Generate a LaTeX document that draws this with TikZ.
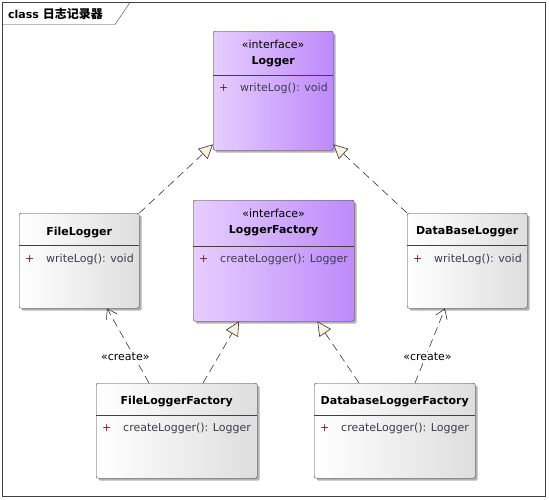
\documentclass[tikz,border=0pt]{standalone}
\usepackage{fontspec}
\setmainfont{DejaVu Sans}
\newfontfamily\cjkfont{Noto Sans CJK SC}
\usepackage{xcolor}
\usepackage{tikz}
\usetikzlibrary{positioning, arrows.meta, shadows}

\definecolor{ifaceleft}{RGB}{230,206,255}
\definecolor{ifaceright}{RGB}{190,138,250}
\definecolor{classright}{RGB}{222,222,222}
\definecolor{tipcream}{RGB}{252,240,224}
\definecolor{edgegray}{RGB}{64,64,64}
\definecolor{opgray}{RGB}{60,60,80}
\definecolor{plusred}{RGB}{110,30,60}

\begin{document}
\begin{tikzpicture}[
    x=1pt, y=-1pt,
    every node/.style={font=\fontsize{11}{16}\selectfont},
    classbox/.style={rectangle, draw=edgegray, rounded corners=2pt, anchor=north west, inner sep=0pt,
        left color=white, right color=classright,
        drop shadow={shadow xshift=2.5pt, shadow yshift=-2.5pt, fill=black, opacity=0.3}},
    ifacebox/.style={classbox, left color=ifaceleft, right color=ifaceright},
    classname/.style={font=\fontsize{11}{16}\selectfont\bfseries, align=center, inner sep=0pt},
    opline/.style={text=opgray, inner sep=0pt},
    sepline/.style={draw=edgegray},
    realize/.style={draw=black!80, line width=0.6pt, dash pattern=on 8pt off 5pt, -{Triangle[length=14pt, width=14pt, fill=tipcream]}},
    depend/.style={draw=black!80, line width=0.6pt, dash pattern=on 8pt off 5pt, -{Straight Barb[length=9pt, width=12pt]}},
    stereo/.style={fill=white, inner sep=1pt},
]
\useasboundingbox (0,0) rectangle (549,499);

% frame
\draw[edgegray] (2.5,2.5) rectangle (545.5,496.5);
\draw[edgegray] (2.5,24.5) -- (115,24.5) -- (130,2.5);
\node[anchor=west, inner sep=0pt, font=\fontsize{11}{14}\selectfont\bfseries] (frametitle) at (8,14) {class {\cjkfont\fontsize{12}{14}\selectfont 日志记录器}};

% interfaces
\node[ifacebox, minimum width=120pt, minimum height=119pt] (logger) at (213,31) {};
\node[classname](logger_name)[below=9pt of logger.north]{{\mdseries «interface»}\\Logger};
\draw[sepline] ([yshift=-44pt]logger.north west) -- ([yshift=-44pt]logger.north east);
\node[opline](logger_op)[below right=51.5pt and 6pt of logger.north west]{\makebox[21pt][l]{\textcolor{plusred}{+}}writeLog(): void};

\node[ifacebox, minimum width=161pt, minimum height=121pt] (loggerfactory) at (193,200) {};
\node[classname](loggerfactory_name)[below=9pt of loggerfactory.north]{{\mdseries «interface»}\\LoggerFactory};
\draw[sepline] ([yshift=-46pt]loggerfactory.north west) -- ([yshift=-46pt]loggerfactory.north east);
\node[opline](loggerfactory_op)[below right=53.5pt and 6pt of loggerfactory.north west]{\makebox[21pt][l]{\textcolor{plusred}{+}}createLogger(): Logger};

% loggers
\node[classbox, minimum width=120pt, minimum height=95pt] (filelogger) at (19,213) {};
\node[classname](filelogger_name)[below=13.5pt of filelogger.north]{FileLogger};
\draw[sepline] ([yshift=-32pt]filelogger.north west) -- ([yshift=-32pt]filelogger.north east);
\node[opline](filelogger_op)[below right=40.5pt and 6pt of filelogger.north west]{\makebox[21pt][l]{\textcolor{plusred}{+}}writeLog(): void};

\node[classbox, minimum width=120pt, minimum height=95pt] (dblogger) at (407,213) {};
\node[classname](dblogger_name)[below=13.5pt of dblogger.north]{DataBaseLogger};
\draw[sepline] ([yshift=-32pt]dblogger.north west) -- ([yshift=-32pt]dblogger.north east);
\node[opline](dblogger_op)[below right=40.5pt and 6pt of dblogger.north west]{\makebox[21pt][l]{\textcolor{plusred}{+}}writeLog(): void};

% factories
\node[classbox, minimum width=161pt, minimum height=95pt] (fileloggerfactory) at (96,383) {};
\node[classname](fileloggerfactory_name)[below=12.5pt of fileloggerfactory.north]{FileLoggerFactory};
\draw[sepline] ([yshift=-32pt]fileloggerfactory.north west) -- ([yshift=-32pt]fileloggerfactory.north east);
\node[opline](fileloggerfactory_op)[below right=39.5pt and 6pt of fileloggerfactory.north west]{\makebox[21pt][l]{\textcolor{plusred}{+}}createLogger(): Logger};

\node[classbox, minimum width=161pt, minimum height=95pt] (dbloggerfactory) at (314,383) {};
\node[classname](dbloggerfactory_name)[below=12.5pt of dbloggerfactory.north]{DatabaseLoggerFactory};
\draw[sepline] ([yshift=-32pt]dbloggerfactory.north west) -- ([yshift=-32pt]dbloggerfactory.north east);
\node[opline](dbloggerfactory_op)[below right=39.5pt and 6pt of dbloggerfactory.north west]{\makebox[21pt][l]{\textcolor{plusred}{+}}createLogger(): Logger};

% realizations
\draw[realize] (filelogger.north east) -- ([yshift=6pt]logger.south west);
\draw[realize] (dblogger.north west) -- ([yshift=6pt]logger.south east);
\draw[realize] ([xshift=107pt]fileloggerfactory.north west) -- ([xshift=46pt]loggerfactory.south west);
\draw[realize] ([xshift=45pt]dbloggerfactory.north west) -- ([xshift=-37pt]loggerfactory.south east);

% dependencies
\draw[depend] ([xshift=53pt]fileloggerfactory.north west) -- node[stereo, pos=0.35, xshift=-9pt](create_file){«create»} ([xshift=88pt]filelogger.south west);
\draw[depend] ([xshift=101pt]dbloggerfactory.north west) -- node[stereo, pos=0.35, xshift=2pt](create_db){«create»} ([xshift=38pt]dblogger.south west);
\end{tikzpicture}
\end{document}
